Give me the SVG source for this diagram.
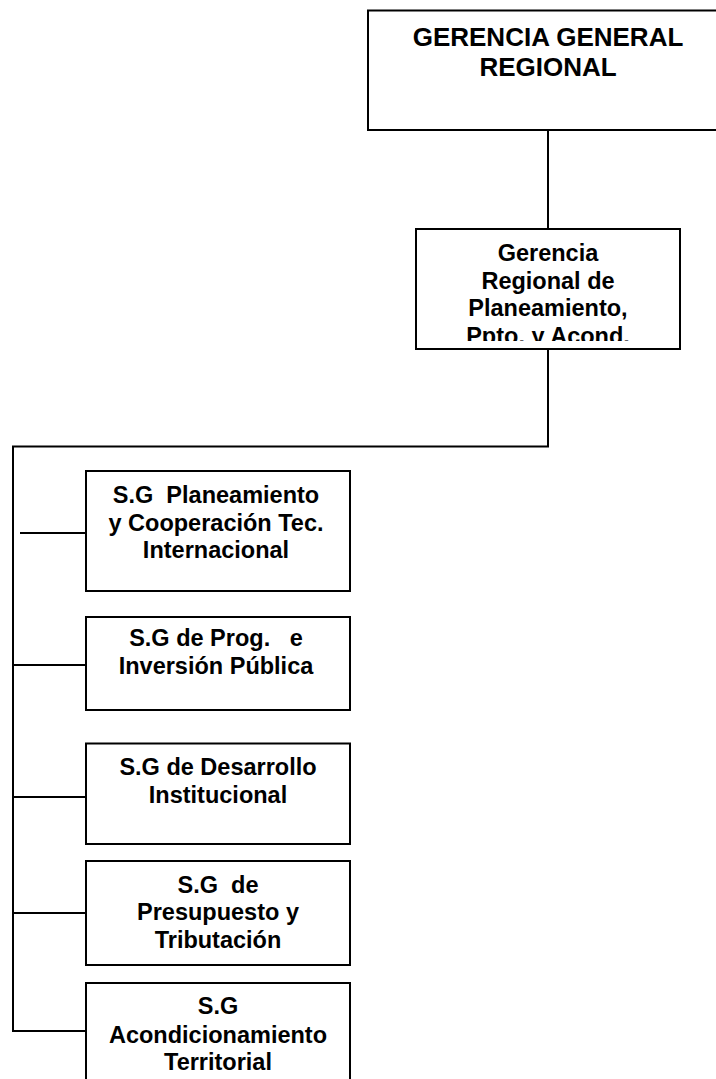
<svg xmlns="http://www.w3.org/2000/svg" width="716" height="1079" viewBox="0 0 716 1079">
<style>
.box{fill:#fff;stroke:#000;stroke-width:2}
.ln{fill:none;stroke:#000;stroke-width:2}
.t{font-family:"Liberation Sans",Arial,sans-serif;font-weight:bold;font-size:23.5px;fill:#000;text-anchor:middle}
.tt{font-family:"Liberation Sans",Arial,sans-serif;font-weight:bold;font-size:26px;fill:#000;text-anchor:middle}
</style>
<defs>
<clipPath id="clipG"><rect x="416" y="229" width="264" height="112"/></clipPath>
</defs>
<rect width="716" height="1079" fill="#fff"/>
<g id="connectors">
<path class="ln" d="M548 130V229"/>
<path class="ln" d="M548 349V446.5H13V1031H86"/>
<path class="ln" d="M20 533H86"/>
<path class="ln" d="M13 665H86"/>
<path class="ln" d="M13 797H86"/>
<path class="ln" d="M13 913H86"/>
</g>
<g id="gerencia-general">
<rect class="box" x="368" y="10.5" width="360" height="119.5"/>
<text class="tt" x="548" y="46">GERENCIA GENERAL</text>
<text class="tt" x="548" y="76">REGIONAL</text>
</g>
<g id="gerencia-regional">
<rect class="box" x="416" y="229" width="264" height="120"/>
<g clip-path="url(#clipG)">
<text class="t" x="548" y="261">Gerencia</text>
<text class="t" x="548" y="288.5">Regional de</text>
<text class="t" x="548" y="316">Planeamiento,</text>
<text class="t" x="548" y="343.5">Ppto. y Acond.</text>
</g>
</g>
<g id="sg-planeamiento">
<rect class="box" x="86" y="471" width="264" height="120"/>
<text class="t" x="216" y="502.7" xml:space="preserve">S.G  Planeamiento</text>
<text class="t" x="216" y="530.7">y Cooperación Tec.</text>
<text class="t" x="216" y="558.3">Internacional</text>
</g>
<g id="sg-inversion">
<rect class="box" x="86" y="617" width="264" height="93"/>
<text class="t" x="216" y="646" xml:space="preserve">S.G de Prog.   e</text>
<text class="t" x="216" y="674">Inversión Pública</text>
</g>
<g id="sg-desarrollo">
<rect class="box" x="86" y="743.5" width="264" height="100.5"/>
<text class="t" x="218" y="775">S.G de Desarrollo</text>
<text class="t" x="218" y="803.3">Institucional</text>
</g>
<g id="sg-presupuesto">
<rect class="box" x="86" y="861" width="264" height="104"/>
<text class="t" x="218" y="892.7" xml:space="preserve">S.G  de</text>
<text class="t" x="218" y="920">Presupuesto y</text>
<text class="t" x="218" y="948.3">Tributación</text>
</g>
<g id="sg-acondicionamiento">
<rect class="box" x="86" y="983" width="264" height="110"/>
<text class="t" x="218" y="1014.3">S.G</text>
<text class="t" x="218" y="1042.7">Acondicionamiento</text>
<text class="t" x="218" y="1070">Territorial</text>
</g>
</svg>
